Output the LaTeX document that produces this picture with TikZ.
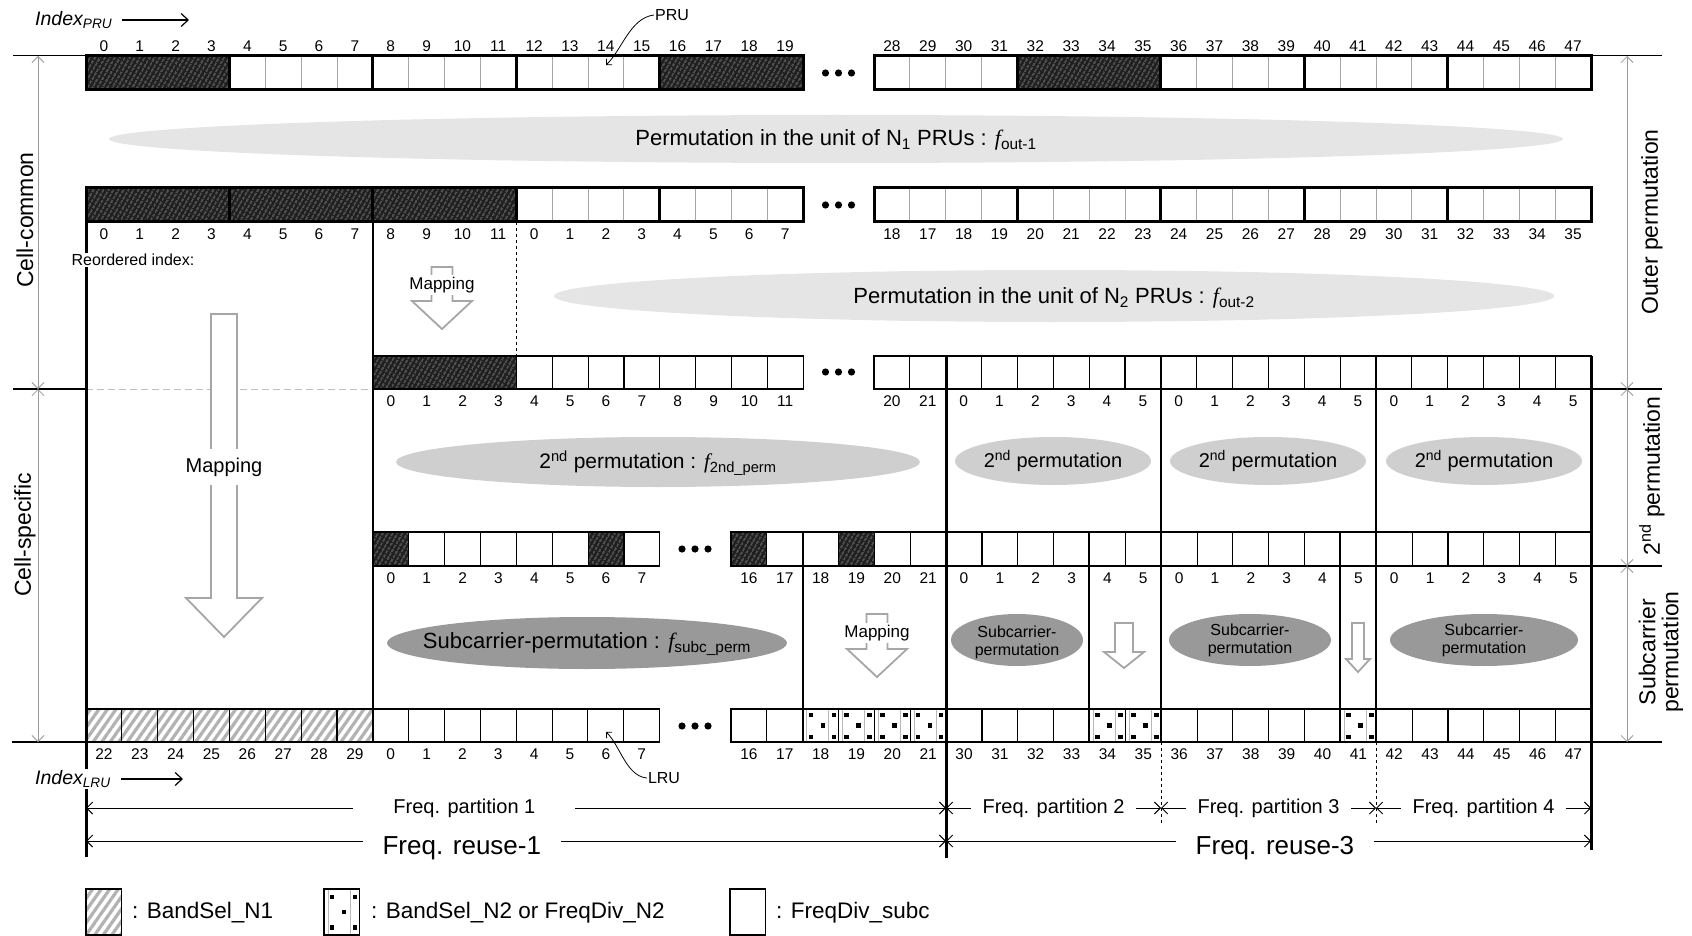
\documentclass[tikz,border=0pt]{standalone}
\usepackage{fontspec}
\setmainfont{Liberation Sans}
\newfontfamily\serifrm{Liberation Serif}
\usetikzlibrary{arrows.meta,patterns,patterns.meta}

\newcommand{\funcf}{{\serifrm\itshape f}}
\newcommand{\fsz}[1]{\fontsize{#1}{#1}\selectfont}
\newcommand{\cellw}{35.85}

% hollow mapping arrow: centre x, top, half shaft, head base, half head, tip
\newcommand{\maparrow}[6]{%
  \draw[mapshape] ({#1-#3},#2) -- ({#1+#3},#2) -- ({#1+#3},#4) -- ({#1+#5},#4)
    -- (#1,#6) -- ({#1-#5},#4) -- ({#1-#3},#4) -- cycle;}

% dotted cell (BandSel_N2 / FreqDiv_N2): left x, top y, height
\newcommand{\dotcell}[3]{%
  \draw[cellline] ({#1},#2) rectangle ++(\cellw,#3);
  \draw[gray!55, line width=0.6pt] ({#1+4},{#2+1}) -- ++(0,{#3-2}) ({#1+26},{#2+1}) -- ++(0,{#3-2});
  \foreach \ox/\oy in {8/0.18,31/0.18,20/0.5,8/0.84,31/0.84}
    \fill ({#1+\ox-2.2},{#2+\oy*#3-2.2}) rectangle ++(4.4,4.4);}

\begin{document}
\begin{tikzpicture}[x=1pt,y=-1pt,
  >={Straight Barb[length=6pt,width=12pt]},
  num/.style={font=\fsz{15.5}, inner sep=0pt},
  cellline/.style={draw=black, line width=1.1pt},
  gridline/.style={draw=gray!70, line width=0.8pt},
  groupline/.style={draw=black, line width=3pt},
  darkcell/.style={fill=black!88, postaction={pattern={Lines[angle=60,distance=4pt,line width=0.9pt]}, pattern color=gray!65}},
  lightcell/.style={fill=white, postaction={pattern={Lines[angle=55,distance=7pt,line width=3.2pt]}, pattern color=gray!60}},
  mapshape/.style={draw=gray!70, fill=white, line width=1.8pt},
  maptext/.style={fill=white, inner xsep=1pt},
  dimline/.style={draw=gray!80, line width=0.8pt, <->},
  spanline/.style={line width=0.9pt, <->},
  sidetext/.style={rotate=90, font=\fsz{23}, align=center, inner sep=0pt},
  ptext/.style={fill=white, font=\fsz{20}, inner ysep=2pt},
  legtext/.style={anchor=west, inner sep=0pt, font=\fsz{22.5}}]
\useasboundingbox (0,0) rectangle (1692,936);

% permutation ellipses
\fill[black!10] (836,139) ellipse [x radius=727pt, y radius=24pt];
\fill[black!10] (1054,296) ellipse [x radius=500pt, y radius=26pt];
\fill[black!19] (658,462) ellipse [x radius=262pt, y radius=25pt];
\foreach \c in {1053,1268,1484}
  \fill[black!19] (\c,461) ellipse [x radius=98pt, y radius=24pt];
\fill[black!40] (587,643) ellipse [x radius=200pt, y radius=26pt];
\fill[black!40] (1017,640) ellipse [x radius=66pt, y radius=26pt];
\fill[black!40] (1250,640) ellipse [x radius=81pt, y radius=26pt];
\fill[black!40] (1484,640) ellipse [x radius=94pt, y radius=26pt];

% row of PRUs
\foreach \i in {1,...,19} \draw[gridline] ({86+\i*\cellw},56) -- ++(0,34);
\fill[darkcell] (86,56) rectangle ++({4*\cellw},34);
\fill[darkcell] ({86+16*\cellw},56) rectangle ++({4*\cellw},34);
\foreach \i in {4,8,12,16} \draw[groupline] ({86+\i*\cellw},56) -- ++(0,34);
\draw[groupline] (86,56) rectangle ++({20*\cellw},34);
\foreach \i in {1,...,19} \draw[gridline] ({874+\i*\cellw},56) -- ++(0,34);
\fill[darkcell] ({874+4*\cellw},56) rectangle ++({4*\cellw},34);
\foreach \i in {4,8,12,16} \draw[groupline] ({874+\i*\cellw},56) -- ++(0,34);
\draw[groupline] (874,56) rectangle ++({20*\cellw},34);

% row after outer permutation
\foreach \i in {1,...,19} \draw[gridline] ({86+\i*\cellw},188) -- ++(0,34);
\fill[darkcell] (86,188) rectangle ++({12*\cellw},34);
\foreach \i in {4,8,12,16} \draw[groupline] ({86+\i*\cellw},188) -- ++(0,34);
\draw[groupline] (86,188) rectangle ++({20*\cellw},34);
\foreach \i in {1,...,19} \draw[gridline] ({874+\i*\cellw},188) -- ++(0,34);
\foreach \i in {4,8,12,16} \draw[groupline] ({874+\i*\cellw},188) -- ++(0,34);
\draw[groupline] (874,188) rectangle ++({20*\cellw},34);

% row before 2nd permutation
\fill[darkcell] (373,356) rectangle ++({4*\cellw},33);
\draw[cellline] (373,356) rectangle ++({4*\cellw},33);
\foreach \i in {4,...,11} \draw[cellline] ({373+\i*\cellw},356) rectangle ++(\cellw,33);
\foreach \i in {0,...,19} \draw[cellline] ({874+\i*\cellw},356) rectangle ++(\cellw,33);

% row after 2nd permutation
\foreach \i in {0,6} \fill[darkcell] ({373+\i*\cellw},532) rectangle ++(\cellw,34);
\foreach \i in {0,3} \fill[darkcell] ({731+\i*\cellw},532) rectangle ++(\cellw,34);
\foreach \i in {0,...,7} \draw[cellline] ({373+\i*\cellw},532) rectangle ++(\cellw,34);
\foreach \i in {0,...,23} \draw[cellline] ({731+\i*\cellw},532) rectangle ++(\cellw,34);

% row of LRUs
\foreach \i in {0,...,7} \fill[lightcell] ({86+\i*\cellw},709) rectangle ++(\cellw,33);
\foreach \i in {0,...,15} \draw[cellline] ({86+\i*\cellw},709) rectangle ++(\cellw,33);
\foreach \i in {0,...,23} \draw[cellline] ({731+\i*\cellw},709) rectangle ++(\cellw,33);
\foreach \i in {2,3,4,5,10,11,17} {\dotcell{731+\i*\cellw}{709}{33}}

% dots between segments
\foreach \c/\y in {838.5/73,838.5/205,838.5/372,695/549,695/726}
  \foreach \d in {-13,0,13} \fill ({\c+\d},\y) circle (3.6pt);

% indices
\foreach \lab [count=\i from 0] in {0,...,19}
  \node[num] (pa\i) at ({86+(\i+0.5)*\cellw},46) {\lab};
\foreach \lab [count=\i from 0] in {28,...,47}
  \node[num] (pb\i) at ({874+(\i+0.5)*\cellw},46) {\lab};
\foreach \lab [count=\i from 0] in {0,1,2,3,4,5,6,7,8,9,10,11,0,1,2,3,4,5,6,7}
  \node[num] (qa\i) at ({86+(\i+0.5)*\cellw},234) {\lab};
\foreach \lab [count=\i from 0] in {18,17,18,19,20,21,22,23,24,25,26,27,28,29,30,31,32,33,34,35}
  \node[num] (qb\i) at ({874+(\i+0.5)*\cellw},234) {\lab};
\foreach \lab [count=\i from 0] in {0,...,11}
  \node[num] (ca\i) at ({373+(\i+0.5)*\cellw},401) {\lab};
\foreach \lab [count=\i from 0] in {20,21,0,1,2,3,4,5,0,1,2,3,4,5,0,1,2,3,4,5}
  \node[num] (cb\i) at ({874+(\i+0.5)*\cellw},401) {\lab};
\foreach \lab [count=\i from 0] in {0,...,7}
  \node[num] (da\i) at ({373+(\i+0.5)*\cellw},578) {\lab};
\foreach \lab [count=\i from 0] in {16,17,18,19,20,21,0,1,2,3,4,5,0,1,2,3,4,5,0,1,2,3,4,5}
  \node[num] (db\i) at ({731+(\i+0.5)*\cellw},578) {\lab};
\foreach \lab [count=\i from 0] in {22,23,24,25,26,27,28,29,0,1,2,3,4,5,6,7}
  \node[num] (ea\i) at ({86+(\i+0.5)*\cellw},754) {\lab};
\foreach \lab [count=\i from 0] in {16,17,18,19,20,21,30,31,32,33,34,35,36,37,38,39,40,41,42,43,44,45,46,47}
  \node[num] (eb\i) at ({731+(\i+0.5)*\cellw},754) {\lab};

% frame lines
\draw[gray!50, line width=0.8pt, dash pattern=on 7pt off 4pt] (86,389) -- (373,389);
\draw[line width=3pt] (86,222) -- (86,857);
\draw[line width=2pt] (373,222) -- (373,742);
\draw[line width=1pt, dashed] (516,222) -- (516,356);
\draw[line width=1.5pt] (803,532) -- (803,742);
\draw[line width=3pt] (946,356) -- (946,858);
\draw[line width=1.5pt] (1089,532) -- (1089,742);
\draw[line width=2pt] (1161,356) -- (1161,742);
\draw[line width=1.5pt] (1340,532) -- (1340,742);
\draw[line width=2pt] (1376,356) -- (1376,742);
\draw[line width=3pt] (1591,356) -- (1591,850);
\draw[line width=1pt, dashed] (1161,742) -- (1161,825);
\draw[line width=1pt, dashed] (1376,742) -- (1376,825);

% side scales
\draw[line width=1pt] (13,56) -- (86,56);
\draw[line width=2pt] (13,389) -- (86,389);
\draw[line width=2.5pt] (12,742) -- (86,742);
\draw[line width=1pt] (1591,56) -- (1662,56);
\draw[line width=2.5pt] (1591,389) -- (1662,389);
\draw[line width=2.5pt] (1591,566) -- (1662,566);
\draw[line width=2.5pt] (1591,742) -- (1662,742);
\coordinate (lt) at (38,56);
\coordinate (lm) at (38,389);
\coordinate (lb) at (38,742);
\coordinate (rt) at (1627,56);
\coordinate (rm) at (1627,389);
\coordinate (rn) at (1627,566);
\coordinate (rb) at (1627,742);
\draw[dimline] (lt) -- (lm);
\draw[dimline] (lm) -- (lb);
\draw[dimline] (rt) -- (rm);
\draw[dimline] (rm) -- (rn);
\draw[dimline] (rn) -- (rb);
\node[sidetext] (cellcom) at (25,220) {Cell-common};
\node[sidetext] (cellspec) at (25,535) {Cell-specific};
\node[sidetext] (outerp) at (1652,222) {Outer permutation};
\node[sidetext] (secondp) at (1652,476) {2\textsuperscript{nd} permutation};
\node[sidetext] (subcp) at (1661,652) {Subcarrier\\permutation};

% permutation texts
\node[font=\fsz{22}] (permA) at (836,140) {Permutation in the unit of N\textsubscript{1} PRUs : \funcf\textsubscript{out-1}};
\node[font=\fsz{22}] (permB) at (1054,298) {Permutation in the unit of N\textsubscript{2} PRUs : \funcf\textsubscript{out-2}};
\node[font=\fsz{21}] (secA) at (658,463) {2\textsuperscript{nd} permutation : \funcf\textsubscript{2nd\_perm}};
\node[font=\fsz{20}] (secB) at (1053,461) {2\textsuperscript{nd} permutation};
\node[font=\fsz{20}] (secC) at (1268,461) {2\textsuperscript{nd} permutation};
\node[font=\fsz{20}] (secD) at (1484,461) {2\textsuperscript{nd} permutation};
\node[font=\fsz{22}] (subcA) at (587,644) {Subcarrier-permutation : \funcf\textsubscript{subc\_perm}};
\node[font=\fsz{16}, align=center] (subcB) at (1017,642) {Subcarrier-\\[2pt]permutation};
\node[font=\fsz{16}, align=center] (subcC) at (1250,640) {Subcarrier-\\[2pt]permutation};
\node[font=\fsz{16}, align=center] (subcD) at (1484,640) {Subcarrier-\\[2pt]permutation};

% mapping arrows
\maparrow{224}{314}{13}{598}{38}{637}
\node[maptext, font=\fsz{20}, inner ysep=9pt] (mapbig) at (224,467) {Mapping};
\maparrow{442}{267}{10.5}{301}{30}{329}
\node[maptext, font=\fsz{17}, inner ysep=2pt] (mapA) at (442,285) {Mapping};
\maparrow{877}{614}{10.5}{649}{30}{677}
\node[maptext, font=\fsz{17}, inner ysep=2pt] (mapB) at (877,633) {Mapping};
\maparrow{1124}{623}{9}{652}{20}{668}
\maparrow{1358}{623}{6}{659}{12}{672}

\node[fill=white, inner sep=1pt, font=\fsz{16}] (reorder) at (133,260) {Reordered index:};

% index captions
\node[anchor=west, inner sep=1pt, fill=white, font=\fsz{19.5}\itshape] (idxpru) at (34,20) {Index\textsubscript{PRU}};
\coordinate (idxpruend) at (189,20);
\draw[line width=1.2pt, -{Straight Barb[length=7pt,width=13pt]}] ([xshift=9pt]idxpru.east) -- (idxpruend);
\node[anchor=west, inner sep=1pt, fill=white, font=\fsz{19.5}\itshape] (idxlru) at (34,779) {Index\textsubscript{LRU}};
\coordinate (idxlruend) at (183,779);
\draw[line width=1.2pt, -{Straight Barb[length=7pt,width=13pt]}] ([xshift=9pt]idxlru.east) -- (idxlruend);

% PRU and LRU callouts
\node[font=\fsz{16}, inner sep=1pt] (prulab) at (672,15) {PRU};
\coordinate (prutip) at (606,65);
\draw[line width=0.8pt, -{Straight Barb[length=4pt,width=8pt]}] (prulab.west) .. controls (630,18) and (622,50) .. (prutip);
\node[font=\fsz{16}, inner sep=1pt] (lrulab) at (664,778) {LRU};
\coordinate (lrutip) at (606,732);
\draw[line width=0.8pt, -{Straight Barb[length=4pt,width=8pt]}] (lrulab.west) .. controls (626,776) and (620,745) .. (lrutip);

% frequency partitions and reuse
\coordinate (fp0) at (86,808);
\coordinate (fp1) at (946,808);
\coordinate (fp2) at (1161,808);
\coordinate (fp3) at (1376,808);
\coordinate (fp4) at (1591,808);
\coordinate (fr0) at (86,841);
\coordinate (fr1) at (946,841);
\coordinate (fr2) at (1591,841);
\draw[spanline] (fp0) -- node[ptext, pos=0.44, inner xsep=40pt] (part1) {Freq. partition 1} (fp1);
\draw[spanline] (fp1) -- node[ptext, inner xsep=12pt] (part2) {Freq. partition 2} (fp2);
\draw[spanline] (fp2) -- node[ptext, inner xsep=12pt] (part3) {Freq. partition 3} (fp3);
\draw[spanline] (fp3) -- node[ptext, inner xsep=12pt] (part4) {Freq. partition 4} (fp4);
\draw[spanline] (fr0) -- node[ptext, pos=0.437, inner xsep=20pt, font=\fsz{26}, yshift=-7pt] (reuse1) {Freq. reuse-1} (fr1);
\draw[spanline] (fr1) -- node[ptext, pos=0.51, inner xsep=20pt, font=\fsz{26}, yshift=-7pt] (reuse3) {Freq. reuse-3} (fr2);

% legend
\fill[lightcell] (86,889) rectangle ++(\cellw,46);
\draw[cellline] (86,889) rectangle ++(\cellw,46);
\node[legtext] (legA) at (132,913) {: BandSel\_N1};
\dotcell{324}{889}{46}
\node[legtext] (legB) at (371,913) {: BandSel\_N2 or FreqDiv\_N2};
\draw[cellline] (730,889) rectangle ++(\cellw,46);
\node[legtext] (legC) at (776,913) {: FreqDiv\_subc};
\end{tikzpicture}
\end{document}
